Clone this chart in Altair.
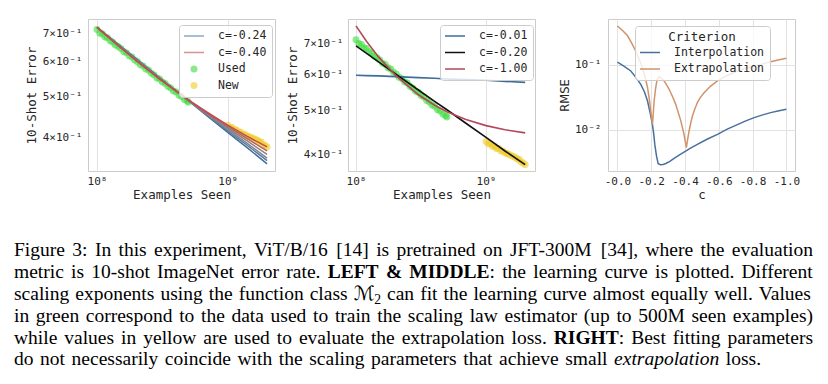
import altair as alt
import pandas as pd

MONO = "DejaVu Sans Mono"
SANS = "DejaVu Sans"
SERIF = "Liberation Serif"
INK = "#262626"

# ---------------- LEFT panel: fits with c between -0.24 and -0.40 ----------------
left_fit_x = [1.0e8, 1.5e8, 2.0e8, 3.0e8, 5.0e8, 7.0e8, 1.0e9, 1.4e9, 2.0e9]
left_fit_c024 = [0.722, 0.654, 0.610, 0.552, 0.4880, 0.449, 0.412, 0.380, 0.348]
left_fit_c027 = [0.722, 0.653, 0.609, 0.551, 0.4883, 0.451, 0.415, 0.385, 0.354]
left_fit_c030 = [0.722, 0.652, 0.608, 0.550, 0.4886, 0.452, 0.419, 0.389, 0.359]
left_fit_c033 = [0.722, 0.651, 0.606, 0.550, 0.4890, 0.454, 0.422, 0.394, 0.366]
left_fit_c037 = [0.722, 0.650, 0.605, 0.549, 0.4895, 0.456, 0.425, 0.399, 0.373]
left_fit_c040 = [0.722, 0.649, 0.604, 0.548, 0.4900, 0.458, 0.428, 0.4035, 0.381]
left_fit_names = ["c=-0.24", "c=-0.27", "c=-0.30", "c=-0.33", "c=-0.37", "c=-0.40"]
left_fit_colors = ["#3d6f9f", "#5b7b99", "#7b8291", "#977c80", "#ad6468", "#c24a4e"]
left_legend_names = ["c=-0.24", "c=-0.40", "Used", "New"]

# observed learning curve (green = used for fitting, yellow = held out)
used_x = [1.00e8, 1.05e8, 1.10e8, 1.15e8, 1.20e8, 1.26e8, 1.32e8, 1.38e8, 1.45e8, 1.52e8,
          1.60e8, 1.68e8, 1.76e8, 1.85e8, 1.94e8, 2.04e8, 2.14e8, 2.25e8, 2.36e8, 2.48e8,
          2.60e8, 2.73e8, 2.87e8, 3.01e8, 3.16e8, 3.32e8, 3.49e8, 3.66e8, 3.84e8, 4.03e8,
          4.23e8, 4.44e8, 4.66e8, 4.89e8, 5.00e8]
used_err = [0.714, 0.700, 0.697, 0.686, 0.683, 0.672, 0.667, 0.657, 0.652, 0.645,
            0.634, 0.630, 0.620, 0.616, 0.606, 0.601, 0.591, 0.587, 0.578, 0.574,
            0.565, 0.560, 0.551, 0.548, 0.539, 0.535, 0.526, 0.522, 0.514, 0.511,
            0.502, 0.499, 0.491, 0.487, 0.484]
new_x = [1.00e9, 1.04e9, 1.08e9, 1.12e9, 1.16e9, 1.20e9, 1.25e9, 1.30e9, 1.35e9, 1.40e9,
         1.45e9, 1.50e9, 1.56e9, 1.62e9, 1.68e9, 1.74e9, 1.80e9, 1.86e9, 1.93e9, 2.00e9]
new_err = [0.428, 0.423, 0.423, 0.418, 0.418, 0.413, 0.413, 0.408, 0.408, 0.404,
           0.403, 0.401, 0.399, 0.397, 0.395, 0.392, 0.391, 0.386, 0.384, 0.381]
point_names = ["Used", "New"]
point_colors = ["#3ddc3d", "#f0cc2a"]

# ---------------- MIDDLE panel: three exponents ----------------
mid_x = [1.0e8, 1.2e8, 1.5e8, 2.0e8, 3.0e8, 4.0e8, 5.0e8, 7.0e8, 1.0e9, 1.4e9, 2.0e9]
mid_c001 = [0.597, 0.596, 0.595, 0.593, 0.590, 0.588, 0.586, 0.584, 0.582, 0.579, 0.576]
mid_c020 = [0.692, 0.667, 0.638, 0.602, 0.555, 0.524, 0.502, 0.469, 0.437, 0.408, 0.381]
mid_c100 = [0.765, 0.709, 0.653, 0.598, 0.542, 0.514, 0.497, 0.478, 0.4635, 0.454, 0.447]
mid_names = ["c=-0.01", "c=-0.20", "c=-1.00"]
mid_colors = ["#3e6e98", "#111111", "#b5475a"]

# ---------------- RIGHT panel: RMSE vs c ----------------
interp_c = [0.0, -0.04, -0.079, -0.11, -0.138, -0.16, -0.178, -0.195, -0.207, -0.215,
            -0.221, -0.231, -0.241, -0.255, -0.27, -0.286, -0.31, -0.335, -0.365, -0.394,
            -0.43, -0.473, -0.53, -0.592, -0.65, -0.71, -0.76, -0.809, -0.86, -0.907,
            -0.95, -1.0]
interp_rmse = [0.111, 0.095, 0.0809, 0.064, 0.0504, 0.0385, 0.0279, 0.0175, 0.0122, 0.0085,
               0.0060, 0.0040, 0.00303, 0.00292, 0.00294, 0.00305, 0.0033, 0.00365, 0.0041, 0.00455,
               0.0052, 0.0060, 0.0072, 0.00857, 0.0103, 0.0121, 0.0138, 0.0155, 0.0171, 0.0185,
               0.0196, 0.0208]
extrap_c = [0.0, -0.03, -0.059, -0.085, -0.108, -0.13, -0.148, -0.165, -0.178, -0.19,
            -0.197, -0.203, -0.207, -0.211, -0.217, -0.225, -0.233, -0.24, -0.247, -0.26,
            -0.276, -0.29, -0.306, -0.325, -0.345, -0.36, -0.375, -0.386, -0.394, -0.402,
            -0.408, -0.414, -0.424, -0.435, -0.444, -0.458, -0.473, -0.49, -0.513, -0.55,
            -0.592, -0.65, -0.71, -0.76, -0.809, -0.86, -0.907, -0.95, -1.0]
extrap_rmse = [0.398, 0.34, 0.284, 0.215, 0.164, 0.12, 0.091, 0.063, 0.0448, 0.028,
               0.0196, 0.0148, 0.0122, 0.0165, 0.0279, 0.042, 0.0568, 0.063, 0.0654, 0.063,
               0.0568, 0.050, 0.0423, 0.033, 0.0248, 0.0185, 0.0138, 0.0105, 0.00857, 0.0065,
               0.00535, 0.0068, 0.00966, 0.0132, 0.0164, 0.021, 0.0264, 0.0315, 0.0375, 0.047,
               0.0568, 0.069, 0.0809, 0.089, 0.0966, 0.104, 0.1125, 0.119, 0.1267]
crit_names = ["Interpolation", "Extrapolation"]
crit_colors = ["#49709c", "#d0936a"]

# ---------------- tick values / labels ----------------
ex_tick_values = [1e8, 1e9]
ex_tick_labels = ["10⁸", "10⁹"]
err_tick_values = [0.4, 0.5, 0.6, 0.7]
err_tick_labels = ["4×10⁻¹", "5×10⁻¹", "6×10⁻¹", "7×10⁻¹"]
c_tick_values = [0.0, -0.2, -0.4, -0.6, -0.8, -1.0]
c_tick_labels = ["-0.0", "-0.2", "-0.4", "-0.6", "-0.8", "-1.0"]
rmse_tick_values = [0.01, 0.1]
rmse_tick_labels = ["10⁻²", "10⁻¹"]

# ---------------- caption ----------------
caption_lines = [
    [("Figure 3: In this experiment, ViT/B/16 [14] is pretrained on JFT-300M [34], where the evaluation", "r")],
    [("metric is 10-shot ImageNet error rate. ", "r"), ("LEFT & MIDDLE", "b"),
     (": the learning curve is plotted. Different", "r")],
    [("scaling exponents using the function class ", "r"), ("ℳ", "m"), ("2", "s"),
     (" can fit the learning curve almost equally well. Values", "r")],
    [("in green correspond to the data used to train the scaling law estimator (up to 500M seen examples)", "r")],
    [("while values in yellow are used to evaluate the extrapolation loss. ", "r"), ("RIGHT", "b"),
     (": Best fitting parameters", "r")],
    [("do not necessarily coincide with the scaling parameters that achieve small ", "r"),
     ("extrapolation", "i"), (" loss.", "r")],
]

# ---------------- layout constants (page pixels) ----------------
PLOT_LEFT, PLOT_TOP = 87, 18
PW, PH = 187, 152
CAP_SIZE = 19.5
CAP_LEFT = 13
caption_baselines = [255.3, 277.1, 298.9, 320.7, 342.5, 364.3]
caption_right = [812, 812, 812, 812, 812, 760]
TICK_SIZE = 11
TITLE_SIZE = 12.5
LEG_SIZE = 11.5

# Times-compatible advance widths (per 1000 em) used to justify the caption lines
W_REG = {" ": 250, ",": 250, ".": 250, ":": 278, "-": 333, "/": 278, "[": 333, "]": 333,
         "(": 333, ")": 333, "&": 778}
W_REG.update({d: 500 for d in "0123456789"})
W_REG.update(dict(zip("ABCDEFGHIJKLMNOPQRSTUVWXYZ",
                      [722, 667, 667, 722, 611, 556, 722, 722, 333, 389, 722, 611, 889, 722, 722,
                       556, 722, 667, 556, 611, 722, 722, 944, 722, 722, 611])))
W_REG.update(dict(zip("abcdefghijklmnopqrstuvwxyz",
                      [444, 500, 444, 500, 444, 333, 500, 500, 278, 278, 500, 278, 778, 500, 500,
                       500, 500, 333, 389, 278, 500, 500, 722, 500, 500, 444])))
W_BOLD = {"L": 667, "E": 667, "F": 611, "T": 667, "&": 833, "M": 944, "I": 389, "D": 722,
          "R": 722, "G": 778, "H": 778}
W_ITAL = {"e": 444, "x": 444, "t": 278, "r": 389, "a": 500, "p": 500, "o": 500, "l": 278,
          "i": 278, "n": 500}
W_MATH = {"ℳ": 1050}
TABLES = {"r": W_REG, "b": W_BOLD, "i": W_ITAL, "m": W_MATH, "s": W_REG}


def text_width(s, st):
    tb = TABLES[st]
    size = CAP_SIZE * (0.7 if st == "s" else 1.0)
    return sum(tb.get(ch, W_REG.get(ch, 500)) for ch in s) / 1000.0 * size


def split_words(line):
    words = [[]]
    for text, st in line:
        parts = text.split(" ")
        for k, p in enumerate(parts):
            if k > 0:
                words.append([])
            if p:
                words[-1].append((p, st))
    return [w for w in words if w]


cap_rows = []
for line, base, right in zip(caption_lines, caption_baselines, caption_right):
    words = split_words(line)
    widths = [sum(text_width(t, st) for t, st in w) for w in words]
    gap = (right - CAP_LEFT - sum(widths)) / (len(words) - 1)
    x = CAP_LEFT
    for w, wd in zip(words, widths):
        xx = x
        for t, st in w:
            cap_rows.append({"t": t, "st": st, "px": xx - PLOT_LEFT,
                             "py": base - PLOT_TOP + (4.5 if st == "s" else 0)})
            xx += text_width(t, st)
        x += wd + gap
cap_df = pd.DataFrame(cap_rows)


def label_expr(values, labels):
    expr = "''"
    for v, lab in zip(reversed(values), reversed(labels)):
        tol = max(abs(v) * 1e-6, 1e-9)
        expr = f"abs(datum.value - ({v!r})) < {tol!r} ? '{lab}' : ({expr})"
    return expr


LINE_SYM = "M-2,0L2,0"
DOT_SYM = "M-0.55,0A0.55,0.55,0,1,1,0.55,0A0.55,0.55,0,1,1,-0.55,0Z"


def legend(**kw):
    base = dict(orient="none", fillColor="rgba(255,255,255,0.8)", strokeColor="#cccccc",
                cornerRadius=3, padding=5, rowPadding=4.5, symbolSize=100,
                symbolStrokeWidth=1.5, symbolOffset=4, labelOffset=18,
                labelFont=MONO, labelFontSize=LEG_SIZE, labelColor=INK)
    base.update(kw)
    return alt.Legend(**base)


# ---------------- data frames ----------------
left_fit_series = [left_fit_c024, left_fit_c027, left_fit_c030, left_fit_c033, left_fit_c037, left_fit_c040]
left_lines = pd.DataFrame([{"x": x, "err": e, "series": n}
                           for n, ys in zip(left_fit_names, left_fit_series)
                           for x, e in zip(left_fit_x, ys)])
obs = pd.DataFrame([{"x": x, "err": e, "series": "Used"} for x, e in zip(used_x, used_err)] +
                   [{"x": x, "err": e, "series": "New"} for x, e in zip(new_x, new_err)])
mid_lines = pd.DataFrame([{"x": x, "err": e, "series": n}
                          for n, ys in zip(mid_names, [mid_c001, mid_c020, mid_c100])
                          for x, e in zip(mid_x, ys)])
rmse_df = pd.DataFrame([{"c": c, "rmse": r, "crit": "Interpolation"} for c, r in zip(interp_c, interp_rmse)] +
                       [{"c": c, "rmse": r, "crit": "Extrapolation"} for c, r in zip(extrap_c, extrap_rmse)])

# ---------------- LEFT chart ----------------
lx = alt.X("x:Q", scale=alt.Scale(type="log", domain=[0.853e8, 2.3e9], nice=False),
           axis=alt.Axis(values=ex_tick_values, labelExpr=label_expr(ex_tick_values, ex_tick_labels),
                         grid=True, title="Examples Seen", labelPadding=4, titlePadding=2))
ly = alt.Y("err:Q", scale=alt.Scale(type="log", domain=[0.335, 0.755], nice=False),
           axis=alt.Axis(values=err_tick_values, labelExpr=label_expr(err_tick_values, err_tick_labels),
                         grid=False, title="10-Shot Error", labelPadding=6, titlePadding=4))
left_color = alt.Color("series:N",
                       scale=alt.Scale(domain=left_fit_names + point_names, range=left_fit_colors + point_colors),
                       legend=legend(title=None, values=left_legend_names, legendX=91, legendY=6,
                                     symbolType={"expr": "indexof(['Used','New'], datum.value) >= 0 ? '"
                                                 + DOT_SYM + "' : '" + LINE_SYM + "'"}))

left_pts = alt.Chart(obs).mark_circle(size=48, opacity=0.6, clip=True).encode(x=lx, y=ly, color=left_color)
left_ln = alt.Chart(left_lines).mark_line(strokeWidth=1.5, clip=True).encode(x=lx, y=ly, color=left_color)

cx = alt.X("px:Q", scale=None, axis=None)
cy = alt.Y("py:Q", scale=None, axis=None)
cap_base = alt.Chart(cap_df)
cap_r = cap_base.transform_filter("datum.st == 'r'").mark_text(
    font=SERIF, fontSize=CAP_SIZE, align="left", baseline="alphabetic", color="black").encode(x=cx, y=cy, text="t:N")
cap_b = cap_base.transform_filter("datum.st == 'b'").mark_text(
    font=SERIF, fontSize=CAP_SIZE, fontWeight="bold", align="left", baseline="alphabetic", color="black").encode(x=cx, y=cy, text="t:N")
cap_i = cap_base.transform_filter("datum.st == 'i'").mark_text(
    font=SERIF, fontSize=CAP_SIZE, fontStyle="italic", align="left", baseline="alphabetic", color="black").encode(x=cx, y=cy, text="t:N")
cap_m = cap_base.transform_filter("datum.st == 'm'").mark_text(
    font="DejaVu Serif, DejaVu Sans", fontSize=CAP_SIZE, align="left", baseline="alphabetic", color="black").encode(x=cx, y=cy, text="t:N")
cap_s = cap_base.transform_filter("datum.st == 's'").mark_text(
    font=SERIF, fontSize=CAP_SIZE * 0.7, align="left", baseline="alphabetic", color="black").encode(x=cx, y=cy, text="t:N")

left = alt.layer(left_pts, left_ln, cap_r, cap_b, cap_i, cap_m, cap_s).properties(width=PW, height=PH)

# ---------------- MIDDLE chart ----------------
mx = alt.X("x:Q", scale=alt.Scale(type="log", domain=[0.868e8, 2.38e9], nice=False),
           axis=alt.Axis(values=ex_tick_values, labelExpr=label_expr(ex_tick_values, ex_tick_labels),
                         grid=True, title="Examples Seen", labelPadding=4, titlePadding=2))
my = alt.Y("err:Q", scale=alt.Scale(type="log", domain=[0.369, 0.792], nice=False),
           axis=alt.Axis(values=err_tick_values, labelExpr=label_expr(err_tick_values, err_tick_labels),
                         grid=False, title="10-Shot Error", labelPadding=5, titlePadding=4))
mid_pts = alt.Chart(obs).mark_circle(size=48, opacity=0.6, clip=True).encode(
    x=mx, y=my, color=alt.Color("series:N", scale=alt.Scale(domain=point_names, range=point_colors), legend=None))
mid_ln = alt.Chart(mid_lines).mark_line(strokeWidth=1.6, clip=True).encode(
    x=mx, y=my,
    stroke=alt.Stroke("series:N", scale=alt.Scale(domain=mid_names, range=mid_colors),
                      legend=legend(title=None, legendX=92, legendY=6, symbolType=LINE_SYM)))
middle = alt.layer(mid_pts, mid_ln).resolve_scale(color="independent").properties(width=PW, height=PH)

# ---------------- RIGHT chart ----------------
right = alt.Chart(rmse_df).mark_line(strokeWidth=1.5, clip=True).encode(
    x=alt.X("c:Q", scale=alt.Scale(domain=[0.056, -1.051], nice=False, zero=False),
            axis=alt.Axis(values=c_tick_values, labelExpr=label_expr(c_tick_values, c_tick_labels),
                          grid=True, title="c", labelPadding=4, titlePadding=2)),
    y=alt.Y("rmse:Q", scale=alt.Scale(type="log", domain=[0.00234, 0.51], nice=False),
            axis=alt.Axis(values=rmse_tick_values, labelExpr=label_expr(rmse_tick_values, rmse_tick_labels),
                          grid=True, title="RMSE", titleFont=SANS, titleFontSize=11.5,
                          labelPadding=7, titlePadding=4)),
    color=alt.Color("crit:N", scale=alt.Scale(domain=crit_names, range=crit_colors),
                    legend=legend(title="Criterion", titleAnchor="middle", titleFont=MONO,
                                  titleFontSize=TITLE_SIZE, titleFontWeight="normal", titleColor=INK,
                                  titlePadding=3, legendX=27, legendY=7, symbolType=LINE_SYM)),
).properties(width=PW, height=PH)

chart = alt.hconcat(left, middle, right, spacing=73, bounds="flush").resolve_scale(
    color="independent", stroke="independent"
).properties(
    padding={"left": 5, "top": 10, "right": 5, "bottom": 5}
).configure_view(
    stroke="#cccccc", strokeWidth=1
).configure_axis(
    labelFont=MONO, titleFont=MONO, labelFontSize=TICK_SIZE, titleFontSize=TITLE_SIZE,
    titleFontWeight="normal", labelColor=INK, titleColor=INK, domain=False, ticks=False,
    gridColor="#e2e2e2", gridWidth=1
).configure_legend(
    labelFont=MONO, labelFontSize=LEG_SIZE, labelColor=INK
)

chart.save("out.html", embed_options={"renderer": "svg", "actions": False})
